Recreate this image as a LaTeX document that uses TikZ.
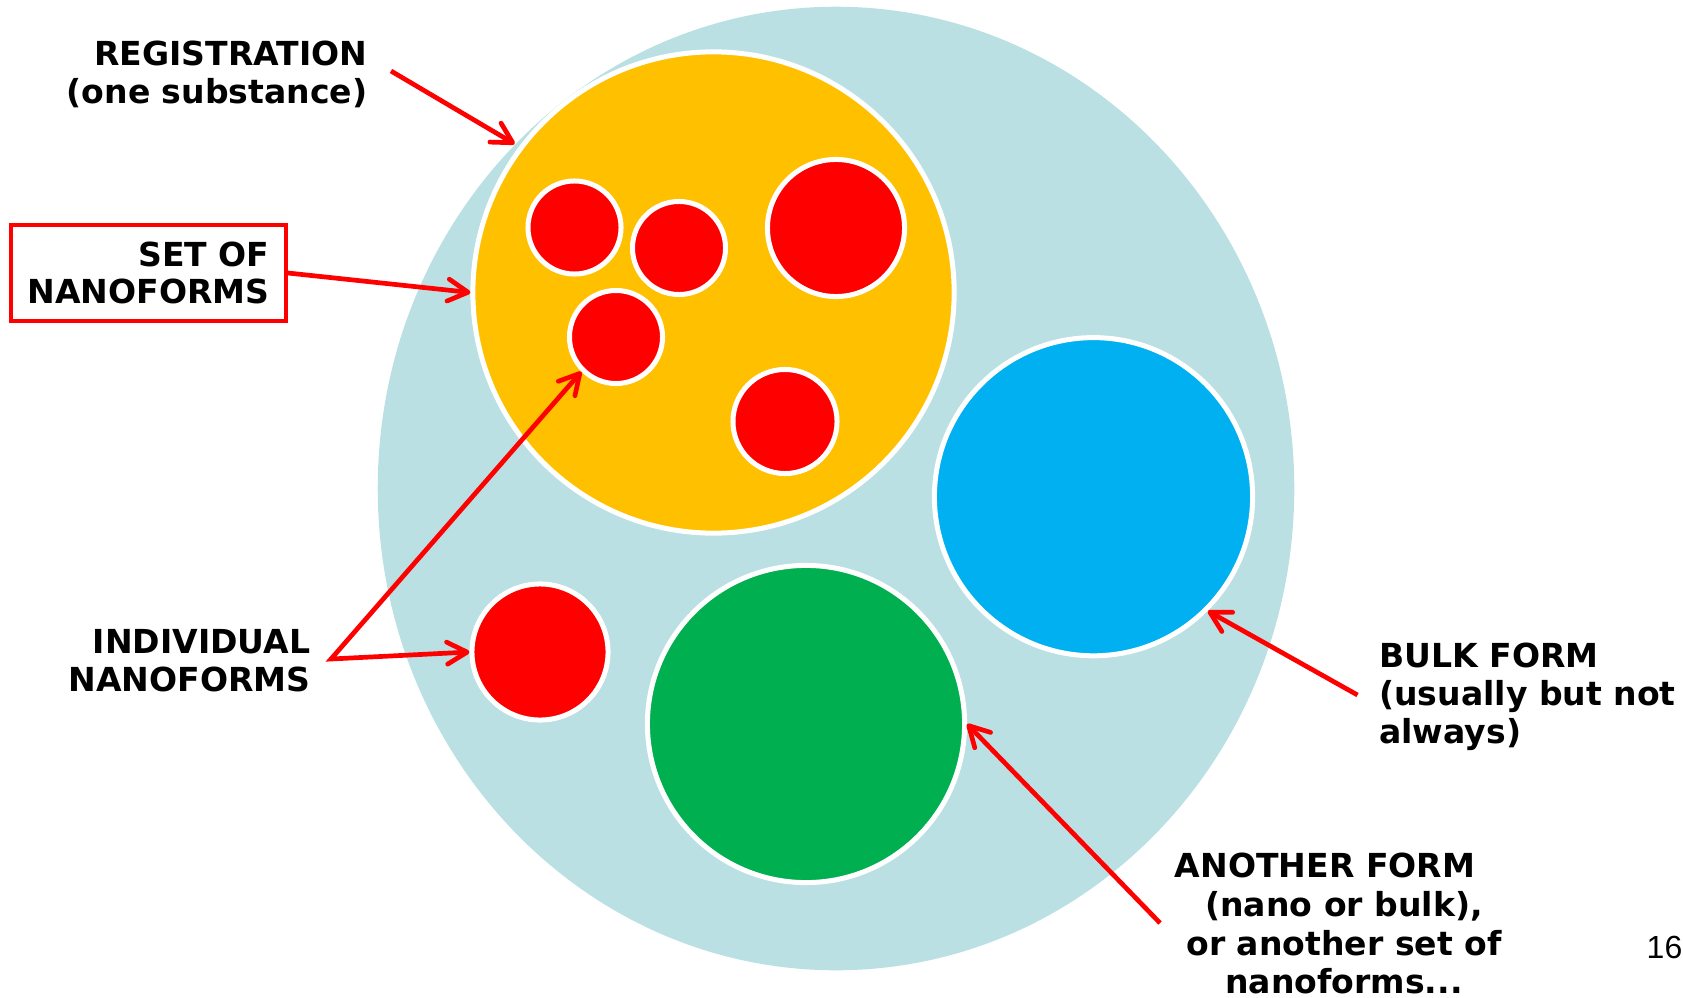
\documentclass[tikz,border=0pt]{standalone}
\usepackage{fontspec}
\setmainfont{DejaVu Sans}
\newfontfamily\slidefont{Liberation Sans}
\usepackage{xcolor}
\usepackage{tikz}
\usetikzlibrary{positioning,shapes.geometric,arrows.meta}
\definecolor{paleblue}{HTML}{BAE0E3}
\definecolor{amber}{HTML}{FFC000}
\definecolor{skyblue}{HTML}{00B0F0}
\definecolor{leafgreen}{HTML}{00B050}
\definecolor{brightred}{HTML}{FF0000}

\begin{document}
\begin{tikzpicture}[x=0.01cm, y=-0.01cm,
  >={Straight Barb[length=0.2cm, width=0.22cm, round]},
  form/.style={circle, draw=white, line width=0.05cm, inner sep=0pt},
  nano/.style={form, fill=brightred},
  pointer/.style={draw=brightred, line width=0.047cm, ->},
  lbl/.style={font=\fontsize{9.4}{10.7}\selectfont\bfseries, inner sep=0pt}]
\useasboundingbox (0,0) rectangle (1683,997);

% the substance and its forms
\node[ellipse, fill=paleblue, inner sep=0pt, minimum width=9.16cm, minimum height=9.63cm] (substance) at (836,488.5) {};
\node[form, fill=amber, minimum size=4.81cm] (setform) at (713.5,292.5) {};
\node[nano, minimum size=0.93cm] (nf1) at (574.5,227.5) {};
\node[nano, minimum size=0.93cm] (nf2) at (679,248) {};
\node[nano, minimum size=1.37cm] (nf3) at (836,228) {};
\node[nano, minimum size=0.93cm] (nf4) at (616,337) {};
\node[nano, minimum size=1.04cm] (nf5) at (785,421.5) {};
\node[form, fill=skyblue, minimum size=3.18cm] (bulkform) at (1093.5,496.7) {};
\node[form, fill=leafgreen, minimum size=3.17cm] (otherform) at (806,724) {};
\node[nano, minimum size=1.36cm] (loneform) at (540,652) {};

% labels (base = last line)
\node[lbl, anchor=base east, align=right] (reglbl) at (368,103.3) {REGISTRATION\\(one substance)};
\node[lbl, draw=brightred, line width=0.04cm, align=right, inner xsep=0.165cm, minimum height=0.966cm] (setlbl) at (148.4,273) {SET OF\\NANOFORMS};
\node[lbl, anchor=base east, align=right] (indlbl) at (311,691.6) {INDIVIDUAL\\NANOFORMS};
\node[lbl, anchor=base west, align=left] (bulklbl) at (1378.6,743.2) {BULK FORM\\(usually but not\\always)};
\node[lbl, font=\fontsize{9.4}{10.95}\selectfont\bfseries, anchor=base, align=center] (otherlbl) at (1344,993.5) {ANOTHER FORM\hspace*{1.15em}\\(nano or bulk),\\or another set of\\nanoforms...};
\node[font=\slidefont\fontsize{9.1}{11}\selectfont, anchor=base west, inner sep=0pt] (pagenum) at (1646,958) {16};

% pointers
\coordinate (regtail) at (391,71);
\coordinate (indtail) at (331,659);
\coordinate (bulktail) at (1357.5,695);
\coordinate (othertail) at (1160,923);
\draw[pointer] (regtail) -- (substance.133.8);
\draw[pointer] (setlbl.east) -- (setform.west);
\draw[pointer, <->] (nf4.225) -- (indtail) -- (loneform.west);
\draw[pointer] (bulktail) -- (bulkform.315);
\draw[pointer] (othertail) -- (otherform.east);
\end{tikzpicture}
\end{document}
